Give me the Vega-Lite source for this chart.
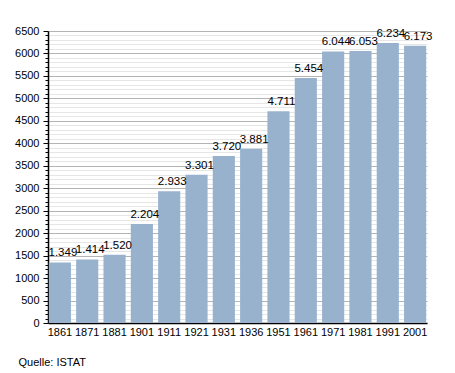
{
  "$schema": "https://vega.github.io/schema/vega-lite/v6.json",
  "width": 379,
  "height": 292,
  "autosize": {"type": "none"},
  "padding": {"left": 48, "top": 31, "right": 28, "bottom": 50},
  "background": "white",
  "config": {
    "locale": {"number": {"decimal": ",", "thousands": ".", "grouping": [3], "currency": ["", " €"]}},
    "view": {"stroke": null},
    "font": "Liberation Sans"
  },
  "title": {
    "text": "Quelle: ISTAT",
    "orient": "bottom",
    "anchor": "start",
    "dx": 4,
    "offset": 20,
    "fontSize": 11,
    "fontWeight": "normal",
    "color": "#000000",
    "font": "Liberation Sans"
  },
  "data": {
    "values": [
      {"year": "1861", "pop": 1349},
      {"year": "1871", "pop": 1414},
      {"year": "1881", "pop": 1520},
      {"year": "1901", "pop": 2204},
      {"year": "1911", "pop": 2933},
      {"year": "1921", "pop": 3301},
      {"year": "1931", "pop": 3720},
      {"year": "1936", "pop": 3881},
      {"year": "1951", "pop": 4711},
      {"year": "1961", "pop": 5454},
      {"year": "1971", "pop": 6044},
      {"year": "1981", "pop": 6053},
      {"year": "1991", "pop": 6234},
      {"year": "2001", "pop": 6173}
    ]
  },
  "encoding": {
    "x": {
      "field": "year",
      "type": "ordinal",
      "sort": null,
      "scale": {"paddingInner": 0.19, "paddingOuter": 0.03},
      "axis": {
        "title": null,
        "labelAngle": 0,
        "labelFontSize": 11,
        "labelColor": "#000000",
        "labelPadding": 3,
        "ticks": false,
        "domainColor": "#000000",
        "domainWidth": 1.5,
        "grid": false
      }
    },
    "y": {
      "field": "pop",
      "type": "quantitative",
      "scale": {"domain": [0, 6500], "nice": false},
      "axis": {
        "title": null,
        "values": [0,100,200,300,400,500,600,700,800,900,1000,1100,1200,1300,1400,1500,1600,1700,1800,1900,2000,2100,2200,2300,2400,2500,2600,2700,2800,2900,3000,3100,3200,3300,3400,3500,3600,3700,3800,3900,4000,4100,4200,4300,4400,4500,4600,4700,4800,4900,5000,5100,5200,5300,5400,5500,5600,5700,5800,5900,6000,6100,6200,6300,6400,6500],
        "format": "d",
        "labelExpr": "datum.value % 500 === 0 ? datum.value : ''",
        "labelOverlap": false,
        "labelFontSize": 11,
        "labelColor": "#000000",
        "labelPadding": 4,
        "grid": true,
        "gridColor": {"condition": {"test": "datum.value % 500 === 0", "value": "#b4b4b4"}, "value": "#e6e6e6"},
        "gridWidth": 1,
        "tickColor": "#000000",
        "tickSize": {"condition": {"test": "datum.value % 500 === 0", "value": 5}, "value": 3},
        "tickWidth": 1,
        "domainColor": "#000000",
        "domainWidth": 1.5
      }
    }
  },
  "layer": [
    {"mark": {"type": "bar", "color": "#98b2ce"}},
    {
      "mark": {"type": "text", "baseline": "alphabetic", "dy": -6, "dx": 3, "fontSize": 11.5, "color": "#000000", "font": "Liberation Sans"},
      "encoding": {"text": {"field": "pop", "type": "quantitative", "format": ",d"}}
    }
  ]
}
